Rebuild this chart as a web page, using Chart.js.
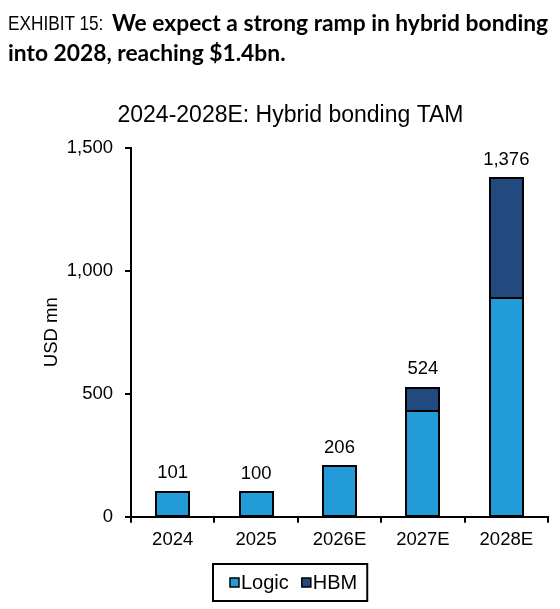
<!DOCTYPE html>
<html><head><meta charset="utf-8">
<script src="https://cdn.jsdelivr.net/npm/chart.js@4.4.1/dist/chart.umd.min.js"></script>
<style>
html,body{margin:0;padding:0;background:#fff;}
#wrap{position:relative;width:560px;height:609px;overflow:hidden;}
#c{position:absolute;left:0;top:0;}
.h{position:absolute;white-space:nowrap;color:#000;line-height:30px;}
.lt{font-family:"Liberation Sans",Arial,sans-serif;font-weight:400;font-size:21px;transform-origin:0 50%;transform:scaleX(0.82);}
.bd{font-family:Lato,sans-serif;font-weight:700;font-size:22.8px;}
</style></head><body>
<div id="wrap"><canvas id="c" width="560" height="609"></canvas>
<div class="h lt" style="left:8px;top:8px;">EXHIBIT 15:</div>
<div class="h bd" style="left:112px;top:7px;">We expect a strong ramp in hybrid bonding</div>
<div class="h bd" style="left:8px;top:37px;">into 2028, reaching $1.4bn.</div>
</div>
<script>
const categories = ['2024', '2025', '2026E', '2027E', '2028E'];
const logicValues = [101, 100, 206, 431, 887];
const hbmValues = [null, null, null, 93, 489];
const yTickValues = [0, 500, 1000, 1500];
const seriesNames = ['Logic', 'HBM'];
const chartTitle = '2024-2028E: Hybrid bonding TAM';
const yAxisTitle = 'USD mn';

const LOGIC_COLOR = '#229BD8';
const HBM_COLOR = '#234A7E';
const FONT = '"Liberation Sans", Arial, sans-serif';

const totals = categories.map((_, i) => (logicValues[i] || 0) + (hbmValues[i] || 0));
const fmt = v => v.toLocaleString('en-US');

const PAD_L = 33, PAD_R = 12;

const outlinePlugin = {
  id: 'barOutline',
  afterDatasetsDraw(chart) {
    const ctx = chart.ctx;
    ctx.save();
    ctx.strokeStyle = '#000';
    ctx.lineWidth = 2;
    chart.data.datasets.forEach((d, di) => {
      chart.getDatasetMeta(di).data.forEach((el, i) => {
        if (d.data[i] == null) return;
        const p = el.getProps(['x', 'y', 'base', 'width'], true);
        const l = Math.round(p.x - p.width / 2), r = Math.round(p.x + p.width / 2);
        const t = Math.round(p.y), b = Math.round(p.base);
        ctx.strokeRect(l, t, r - l, b - t);
      });
    });
    ctx.restore();
  }
};

const labelPlugin = {
  id: 'totals',
  afterDatasetsDraw(chart) {
    const ctx = chart.ctx;
    ctx.save();
    ctx.font = '18.5px ' + FONT;
    ctx.fillStyle = '#000';
    ctx.textAlign = 'center';
    ctx.textBaseline = 'alphabetic';
    categories.forEach((c, i) => {
      const ds = hbmValues[i] != null ? 1 : 0;
      const el = chart.getDatasetMeta(ds).data[i];
      ctx.fillText(fmt(totals[i]), el.x, el.y - 13.5);
    });
    ctx.restore();
  }
};

const legendPlugin = {
  id: 'boxLegend',
  afterDraw(chart) {
    const ctx = chart.ctx;
    ctx.save();
    ctx.font = '20px ' + FONT;
    const sq = 9, gap = 2, spacing = 13, padL = 17, padR = 10;
    const cols = [LOGIC_COLOR, HBM_COLOR];
    const widths = seriesNames.map(n => ctx.measureText(n).width);
    const content = widths.reduce((a, w) => a + sq + gap + w, 0) + spacing * (seriesNames.length - 1);
    const boxW = padL + content + padR;
    const cx = (PAD_L + chart.width - PAD_R) / 2;
    const left = Math.round(cx - boxW / 2);
    const top = 564, h = 37;
    ctx.lineWidth = 2;
    ctx.strokeStyle = '#000';
    ctx.strokeRect(left, top, boxW, h);
    let x = left + padL;
    const cy = top + h / 2;
    ctx.textBaseline = 'middle';
    seriesNames.forEach((n, i) => {
      ctx.fillStyle = cols[i];
      ctx.fillRect(x, cy - sq / 2, sq, sq);
      ctx.lineWidth = 1.5;
      ctx.strokeRect(x, cy - sq / 2, sq, sq);
      x += sq + gap;
      ctx.fillStyle = '#000';
      ctx.fillText(n, x, cy + 1);
      x += widths[i] + spacing;
    });
    ctx.restore();
  }
};

new Chart(document.getElementById('c'), {
  type: 'bar',
  data: {
    labels: categories,
    datasets: [
      { label: seriesNames[0], data: logicValues, backgroundColor: LOGIC_COLOR, borderWidth: 0, inflateAmount: 0 },
      { label: seriesNames[1], data: hbmValues, backgroundColor: HBM_COLOR, borderWidth: 0, inflateAmount: 0 }
    ]
  },
  options: {
    responsive: false,
    animation: false,
    devicePixelRatio: 1,
    layout: { padding: { left: PAD_L, right: PAD_R, top: 0, bottom: 52 } },
    datasets: { bar: { barPercentage: 0.395, categoryPercentage: 1 } },
    plugins: {
      legend: { display: false },
      tooltip: { enabled: false },
      title: {
        display: true, text: chartTitle, color: '#000',
        font: { family: FONT, size: 23, weight: 'normal' },
        padding: { top: 102, bottom: 18 }
      }
    },
    scales: {
      x: {
        stacked: true,
        grid: { display: true, drawOnChartArea: false, drawTicks: true, tickLength: 6, color: '#000', lineWidth: 2, offset: true },
        border: { display: true, color: '#000', width: 2 },
        ticks: { color: '#000', font: { family: FONT, size: 18.5 }, padding: 6, maxRotation: 0 }
      },
      y: {
        stacked: true,
        min: 0, max: 1500,
        afterBuildTicks: s => { s.ticks = yTickValues.map(v => ({ value: v })); },
        afterFit: s => { s.width = 131 - PAD_L; },
        grid: { display: true, drawOnChartArea: false, drawTicks: true, tickLength: 6, color: '#000', lineWidth: 2 },
        border: { display: true, color: '#000', width: 2 },
        ticks: { color: '#000', font: { family: FONT, size: 18.5 }, padding: 12, callback: v => fmt(v) },
        title: { display: true, text: yAxisTitle, color: '#000', font: { family: FONT, size: 18.5 }, padding: { top: 8, bottom: 0 } }
      }
    }
  },
  plugins: [outlinePlugin, labelPlugin, legendPlugin]
});
</script>
</body></html>
